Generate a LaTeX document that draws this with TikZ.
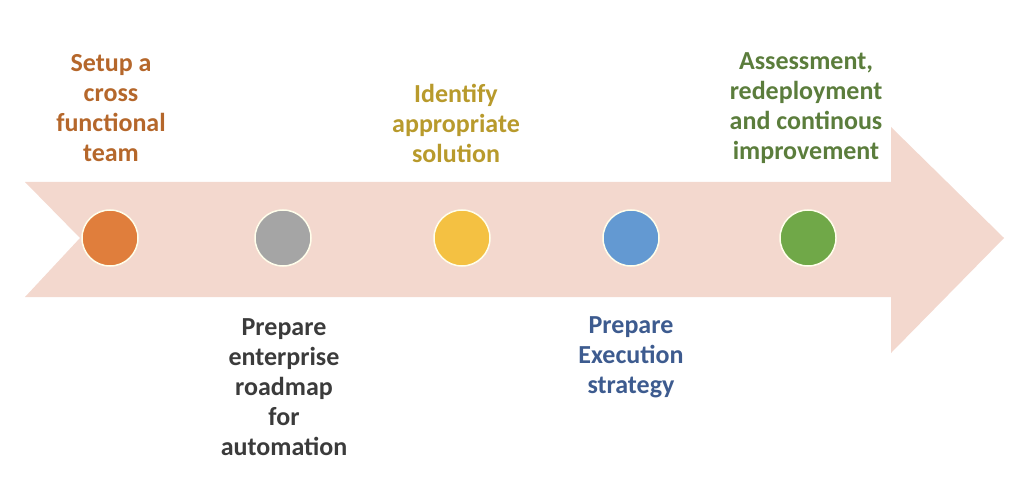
\documentclass[tikz,border=0pt]{standalone}
\usepackage{fontspec}
\setmainfont{Carlito}
\usepackage{tikz}
\usetikzlibrary{positioning}
\usepackage{xcolor}
\definecolor{arrowpink}{HTML}{F3D8CE}
\definecolor{dotorange}{HTML}{E07E3C}
\definecolor{dotgray}{HTML}{A5A5A5}
\definecolor{dotyellow}{HTML}{F4C142}
\definecolor{dotblue}{HTML}{6399D2}
\definecolor{dotgreen}{HTML}{70A848}
\definecolor{txtorange}{HTML}{B5672B}
\definecolor{txtgray}{HTML}{3B3B3B}
\definecolor{txtyellow}{HTML}{B89A2C}
\definecolor{txtblue}{HTML}{3D5B8F}
\definecolor{txtgreen}{HTML}{5B7D3C}
\tikzset{%
	every dot/.style={
		circle,
		draw=white!92!yellow,
		line width=1.5pt,
		minimum size=56pt,
		inner sep=0pt
	},
	dot label/.style={
		align=center,
		inner sep=0pt,
		font=\bfseries\fontsize{26}{30}\selectfont
	},
}
\begin{document}
\begin{tikzpicture}[x=1pt, y=-1pt]
	\useasboundingbox (0,0) rectangle (1024,486);
	% the arrow
	\fill[arrowpink] (25,182) -- (891,182) -- (891,127) -- (1004,238) -- (891,353)
		-- (891,297) -- (25,297) -- (80,238) -- cycle;
	% the dots
	\node[every dot, fill=dotorange] (team) at (110,238) {};
	\node[every dot, fill=dotgray] (roadmap) at (283,238) {};
	\node[every dot, fill=dotyellow] (solution) at (462,238) {};
	\node[every dot, fill=dotblue] (strategy) at (631,238) {};
	\node[every dot, fill=dotgreen] (improve) at (808,238) {};
	% the labels
	\node[dot label, text=txtorange] (team label) at (111,108) {Setup a\\cross\\functional\\team};
	\node[dot label, text=txtgray] (roadmap label) at (284,387) {Prepare\\enterprise\\roadmap\\for\\automation};
	\node[dot label, text=txtyellow] (solution label) at (456,123) {Identify\\appropriate\\solution};
	\node[dot label, text=txtblue] (strategy label) at (631,357) {Prepare\\Execution\\strategy};
	\node[dot label, text=txtgreen] (improve label) at (806,108) {Assessment,\\redeployment\\and continous\\improvement};
\end{tikzpicture}
\end{document}
